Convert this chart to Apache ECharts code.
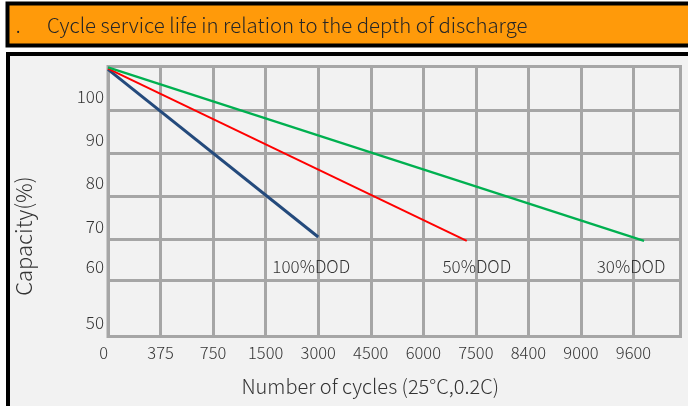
<!DOCTYPE html>
<html>
<head>
<meta charset="utf-8">
<script src="https://cdn.jsdelivr.net/npm/echarts@6/dist/echarts.min.js"></script>
<style>
html,body{margin:0;padding:0;background:#fff;}
#c{width:688px;height:406px;}
</style>
</head>
<body>
<div id="c"></div>
<script>
// ---- data ----
var xTicks = [0, 375, 750, 1500, 3000, 4500, 6000, 7500, 8400, 9000, 9600];
var yTickLabels = ['50', '60', '70', '80', '90', '100'];
var yGridValues = [47.6, 60.6, 70, 80, 90, 100, 110]; // capacity where reference grid lines sit
var seriesNames = ['100%DOD', '50%DOD', '30%DOD'];
var dod100Cycles = [0, 3000];
var dod100Cap = [109.35, 70.6];
var dod50Cycles = [0, 7240];
var dod50Cap = [109.5, 69.7];
var dod30Cycles = [0, 9720];
var dod30Cap = [109.8, 69.7];

// x axis is drawn with evenly spaced tick labels: map cycles onto tick index
function cyclesToIdx(c) {
  for (var i = 0; i < xTicks.length - 1; i++) {
    if (c <= xTicks[i + 1]) {
      return i + (c - xTicks[i]) / (xTicks[i + 1] - xTicks[i]);
    }
  }
  var n = xTicks.length - 1;
  return n + (c - xTicks[n]) / (xTicks[n] - xTicks[n - 1]);
}
function pts(cyc, cap) {
  return cyc.map(function (c, i) { return [cyclesToIdx(c), cap[i]]; });
}

var FONT = '"Noto Sans CJK SC", "Source Han Sans", "Noto Sans", sans-serif';
var chart = echarts.init(document.getElementById('c'), null, {renderer: 'canvas'});

function mk(name, cyc, cap, color, width, off) {
  return {
    name: name, type: 'line', data: pts(cyc, cap),
    showSymbol: false, symbol: 'none', animation: false,
    lineStyle: {color: color, width: width},
    endLabel: {
      show: true, formatter: name, color: '#333', fontFamily: FONT, fontSize: 17,
      fontWeight: 300, align: 'center', verticalAlign: 'middle', distance: 0, offset: off
    },
    z: 5
  };
}

var option = {
  animation: false,
  backgroundColor: '#ffffff',
  graphic: [
    {type: 'rect', z: -10, silent: true,
     shape: {x: 7.5, y: 3.5, width: 700, height: 42},
     style: {fill: '#ff9a0a', stroke: '#000', lineWidth: 4}},
    {type: 'rect', z: -10, silent: true,
     shape: {x: 8, y: 54, width: 700, height: 370},
     style: {fill: '#f2f2f2', stroke: '#000', lineWidth: 4}}
  ],
  title: [
    {text: '·', left: 16, top: 25, padding: 0,
     textStyle: {color: '#222', fontSize: 16, fontWeight: 'normal', fontFamily: '"Noto Sans", sans-serif'}},
    {text: 'Cycle service life in relation to the depth of discharge', left: 47, top: 15, padding: 0,
     textStyle: {color: '#262626', fontSize: 20.4, fontWeight: 300, fontFamily: FONT}}
  ],
  grid: {
    left: 108, top: 66.5, right: 7.5, bottom: 69.5,
    show: true, borderColor: '#a6a6a6', borderWidth: 3, backgroundColor: 'transparent',
    containLabel: false
  },
  xAxis: {
    type: 'value', min: 0, max: 10.894, interval: 1,
    name: 'Number of cycles (25°C,0.2C)', nameLocation: 'middle', nameGap: 40,
    nameTextStyle: {color: '#333', fontSize: 20, fontWeight: 300, fontFamily: FONT, padding: [0, 48, 0, 0]},
    axisLine: {show: false}, axisTick: {show: false},
    axisLabel: {
      color: '#333', fontSize: 16.5, fontWeight: 300, fontFamily: FONT, margin: 8,
      alignMinLabel: 'right',
      formatter: function (v) {
        var i = Math.round(v);
        return Math.abs(v - i) < 1e-6 && xTicks[i] !== undefined ? String(xTicks[i]) : '';
      }
    },
    splitLine: {show: true, lineStyle: {color: '#a6a6a6', width: 3}}
  },
  yAxis: {
    type: 'value', min: 47.6, max: 110,
    name: 'Capacity(%)', nameLocation: 'middle', nameGap: 73, nameRotate: 90,
    nameTextStyle: {color: '#333', fontSize: 22, fontWeight: 300, fontFamily: FONT, padding: [0, 69, 0, 0]},
    axisLine: {show: false},
    axisTick: {show: false, customValues: yGridValues},
    axisLabel: {
      customValues: yGridValues.slice(0, yTickLabels.length),
      color: '#333', fontSize: 17, fontWeight: 300, fontFamily: FONT, margin: 4,
      verticalAlign: 'bottom', padding: [0, 0, 5, 0],
      formatter: function (v) {
        var i = yGridValues.indexOf(v);
        return i >= 0 && i < yTickLabels.length ? yTickLabels[i] : '';
      }
    },
    splitLine: {show: true, lineStyle: {color: '#a6a6a6', width: 3}}
  },
  series: [
    mk(seriesNames[0], dod100Cycles, dod100Cap, '#244a7c', 3, [-7, 30]),
    mk(seriesNames[1], dod50Cycles, dod50Cap, '#ff0000', 2, [10, 26]),
    mk(seriesNames[2], dod30Cycles, dod30Cap, '#00b050', 2.2, [-13, 26])
  ]
};
chart.setOption(option);
</script>
</body>
</html>
